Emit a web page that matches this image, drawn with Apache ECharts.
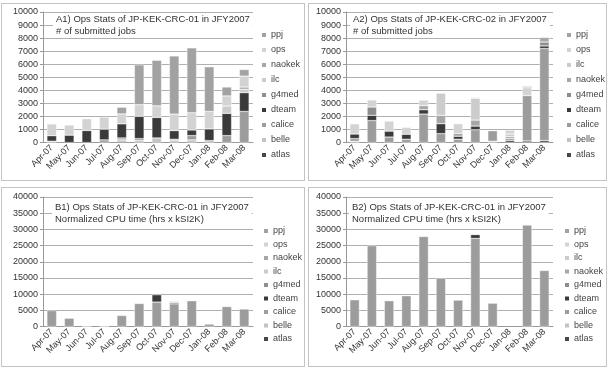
<!DOCTYPE html>
<html>
<head>
<meta charset="utf-8">
<script src="https://cdn.jsdelivr.net/npm/echarts@6/dist/echarts.min.js"></script>
<style>
    body { margin: 0; background: #fff; }
    .panel { position: absolute; border: 1px solid #c4c4c4; box-sizing: border-box; }
</style>
</head>
<body>
<div id="a1" class="panel" style="left:1px;top:3px;width:304px;height:178px"></div>
<div id="a2" class="panel" style="left:308px;top:3px;width:299px;height:178px"></div>
<div id="b1" class="panel" style="left:1px;top:187px;width:304px;height:180px"></div>
<div id="b2" class="panel" style="left:308px;top:187px;width:299px;height:180px"></div>
<script>
    const months = ['Apr-07', 'May-07', 'Jun-07', 'Jul-07', 'Aug-07', 'Sep-07', 'Oct-07', 'Nov-07', 'Dec-07', 'Jan-08', 'Feb-08', 'Mar-08'];

    // A1) CRC-01, # of submitted jobs
    const a1_atlas = [0, 0, 0, 0, 100, 0, 0, 0, 0, 0, 0, 0];
    const a1_belle = [100, 0, 0, 0, 100, 150, 350, 150, 200, 150, 0, 0];
    const a1_calice = [0, 0, 0, 200, 150, 150, 0, 100, 330, 0, 530, 2380];
    const a1_dteam = [420, 560, 920, 820, 1080, 1700, 1570, 660, 430, 890, 1700, 1440];
    const a1_g4med = [0, 0, 0, 0, 0, 0, 0, 0, 0, 0, 0, 0];
    const a1_ilc = [0, 0, 0, 0, 0, 0, 0, 0, 0, 0, 570, 260];
    const a1_naokek = [0, 0, 0, 0, 0, 0, 0, 0, 0, 0, 0, 170];
    const a1_ops = [900, 780, 900, 930, 760, 900, 890, 1270, 1320, 1340, 770, 840];
    const a1_ppj = [0, 0, 0, 0, 510, 3050, 3490, 4450, 4970, 3420, 680, 500];

    // A2) CRC-02, # of submitted jobs
    const a2_atlas = [0, 0, 0, 0, 0, 0, 0, 0, 0, 150, 120, 150];
    const a2_belle = [100, 0, 0, 0, 0, 0, 0, 0, 100, 0, 0, 0];
    const a2_calice = [200, 1680, 420, 250, 2180, 680, 250, 980, 800, 150, 3480, 7050];
    const a2_dteam = [350, 400, 450, 380, 330, 760, 230, 280, 0, 0, 0, 200];
    const a2_g4med = [0, 640, 0, 0, 0, 0, 0, 0, 0, 0, 0, 300];
    const a2_naokek = [0, 0, 0, 0, 320, 640, 220, 460, 0, 150, 0, 350];
    const a2_ilc = [0, 0, 0, 0, 0, 1700, 0, 1680, 0, 200, 0, 0];
    const a2_ops = [780, 540, 770, 530, 420, 0, 740, 60, 0, 300, 600, 550];
    const a2_ppj = [0, 0, 0, 0, 0, 0, 0, 0, 0, 0, 100, 300];

    // B1) CRC-01, normalized CPU time
    const b1_calice = [4900, 2550, 100, 40, 3400, 7100, 7550, 7000, 7950, 750, 6150, 5400];
    const b1_dteam = [0, 0, 0, 0, 0, 0, 2250, 350, 0, 0, 0, 0];
    const b1_ilc = [0, 0, 0, 0, 0, 0, 0, 450, 0, 0, 0, 0];

    // B2) normalized CPU time
    const b2_calice = [8250, 24950, 7950, 9500, 27800, 14950, 8150, 27200, 7200, 0, 33800, 17300];
    const b2_dteam = [0, 0, 0, 0, 0, 0, 0, 1200, 0, 0, 0, 0];
    const b2_ops = [0, 0, 0, 0, 0, 0, 0, 100, 0, 0, 0, 0];

    const jobsMax = 10000, jobsStep = 1000;
    const cpuMax = 40000, cpuStep = 5000;

    const FONT = '"Liberation Sans Narrow", "Liberation Sans", sans-serif';

    let colors = {
        ppj: '#a2a2a2',
        ops: '#d3d3d3',
        naokek: '#a6a6a6',
        ilc: '#cccccc',
        g4med: '#8e8e8e',
        dteam: '#3a3a3a',
        calice: '#9c9c9c',
        belle: '#c3c3c3',
        atlas: '#474747'
    };

    // stack order, bottom to top
    const orderA1 = ['atlas', 'belle', 'calice', 'dteam', 'g4med', 'ilc', 'naokek', 'ops', 'ppj'];
    const orderA2 = ['atlas', 'belle', 'calice', 'dteam', 'g4med', 'naokek', 'ilc', 'ops', 'ppj'];

    function makeChart(id, cfg) {
        let chart = echarts.init(document.getElementById(id));
        let series = cfg.order.map(name => ({
            name: name,
            type: 'bar',
            stack: 'total',
            barWidth: '55%',
            // empty segments left out so they draw nothing
            data: (cfg.data[name] || []).map(v => v > 0 ? v : '-'),
            itemStyle: { color: colors[name], borderColor: '#fff', borderWidth: 0.4 }
        }));
        let option = {
            animation: false,
            textStyle: { fontFamily: FONT },
            title: {
                text: cfg.title,
                left: cfg.titleX,
                top: cfg.titleY,
                padding: [0, 3],
                backgroundColor: '#fff',
                textStyle: { fontSize: 9.5, fontWeight: 'normal', color: '#333', lineHeight: 12, fontFamily: FONT }
            },
            legend: {
                orient: 'vertical',
                left: cfg.legendX,
                top: cfg.legendY,
                data: cfg.order.slice().reverse(),
                icon: 'rect',
                itemWidth: 4,
                itemHeight: 4,
                itemGap: cfg.legendGap,
                selectedMode: false,
                itemStyle: { borderWidth: 0 },
                textStyle: { fontSize: 9, color: '#444', lineHeight: 10, fontFamily: FONT }
            },
            grid: cfg.grid,
            xAxis: {
                type: 'category',
                data: months,
                axisLine: { lineStyle: { color: '#999' } },
                axisTick: { length: 3, lineStyle: { color: '#999' } },
                axisLabel: { rotate: 45, interval: 0, fontSize: 9, color: '#333', margin: 4 }
            },
            yAxis: {
                type: 'value',
                min: 0,
                max: cfg.max,
                interval: cfg.step,
                axisLine: { show: true, lineStyle: { color: '#999' } },
                axisTick: { show: true, length: 3, lineStyle: { color: '#999' } },
                axisLabel: { fontSize: 9, color: '#333', margin: 5, formatter: v => String(v) },
                splitLine: { lineStyle: { color: '#b0b0b0' } }
            },
            series: series
        };
        chart.setOption(option);
    }

    makeChart('a1', {
        title: 'A1) Ops Stats of JP-KEK-CRC-01 in JFY2007\n# of submitted jobs',
        titleX: 51, titleY: 9,
        legendX: 255, legendY: 21, legendGap: 5,
        grid: { left: 41, top: 8, right: 51, bottom: 37.5 },
        max: jobsMax, step: jobsStep,
        order: orderA1,
        data: { atlas: a1_atlas, belle: a1_belle, calice: a1_calice, dteam: a1_dteam, g4med: a1_g4med, ilc: a1_ilc, naokek: a1_naokek, ops: a1_ops, ppj: a1_ppj }
    });

    makeChart('a2', {
        title: 'A2) Ops Stats of JP-KEK-CRC-02 in JFY2007\n# of submitted jobs',
        titleX: 41, titleY: 9,
        legendX: 253, legendY: 21, legendGap: 5,
        grid: { left: 37, top: 8, right: 53, bottom: 37.5 },
        max: jobsMax, step: jobsStep,
        order: orderA2,
        data: { atlas: a2_atlas, belle: a2_belle, calice: a2_calice, dteam: a2_dteam, g4med: a2_g4med, naokek: a2_naokek, ilc: a2_ilc, ops: a2_ops, ppj: a2_ppj }
    });

    makeChart('b1', {
        title: 'B1) Ops Stats of JP-KEK-CRC-01 in JFY2007\nNormalized CPU time (hrs x kSI2K)',
        titleX: 50, titleY: 13.5,
        legendX: 257, legendY: 33, legendGap: 3.5,
        grid: { left: 41, top: 9, right: 51, bottom: 39.5 },
        max: cpuMax, step: cpuStep,
        order: orderA1,
        data: { calice: b1_calice, dteam: b1_dteam, ilc: b1_ilc }
    });

    makeChart('b2', {
        title: 'B2) Ops Stats of JP-KEK-CRC-01 in JFY2007\nNormalized CPU time (hrs x kSI2K)',
        titleX: 40, titleY: 13.5,
        legendX: 251, legendY: 33, legendGap: 3.5,
        grid: { left: 37, top: 9, right: 53, bottom: 39.5 },
        max: cpuMax, step: cpuStep,
        order: orderA2,
        data: { calice: b2_calice, dteam: b2_dteam, ops: b2_ops }
    });
</script>
</body>
</html>
